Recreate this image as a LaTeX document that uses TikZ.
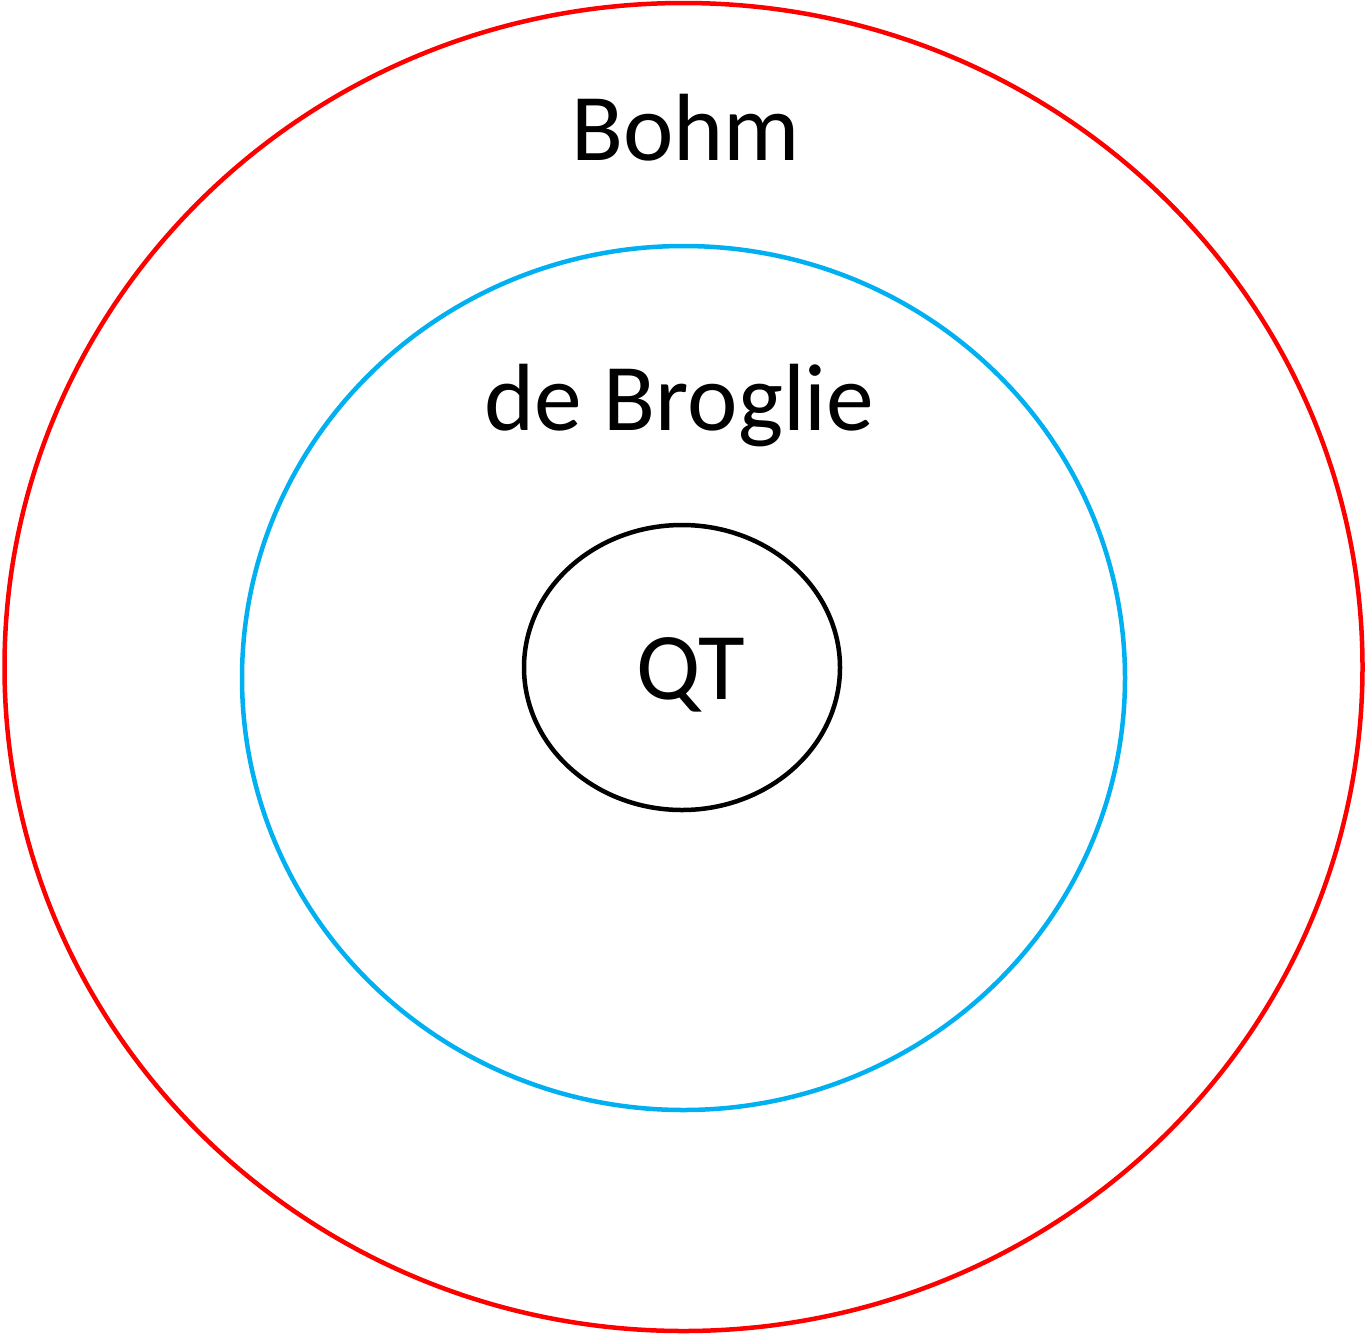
\documentclass[tikz,border=0pt]{standalone}
\usepackage{fontspec}
\setmainfont{Carlito}
\definecolor{skyb}{HTML}{00B0F0}
\definecolor{redc}{HTML}{FF0000}
\begin{document}
\begin{tikzpicture}[x=1pt,y=-1pt,
  ring/.style={line width=4.5pt},
  lbl/.style={anchor=base,inner sep=0pt,font=\fontsize{95.5}{110}\selectfont}]
\useasboundingbox (0,0) rectangle (1365,1334);
\draw[ring,draw=redc] (683.5,667) ellipse [x radius=679, y radius=664];
\draw[ring,draw=skyb] (683.5,678) ellipse [x radius=441.5, y radius=432];
\draw[ring,draw=black] (682,667.5) ellipse [x radius=158, y radius=142.5];
\node[lbl] (bohm) at (685.5,160) {Bohm};
\node[lbl] (broglie) at (679.5,430) {de Broglie};
\node[lbl] (qt) at (691,699) {QT};
\end{tikzpicture}
\end{document}
